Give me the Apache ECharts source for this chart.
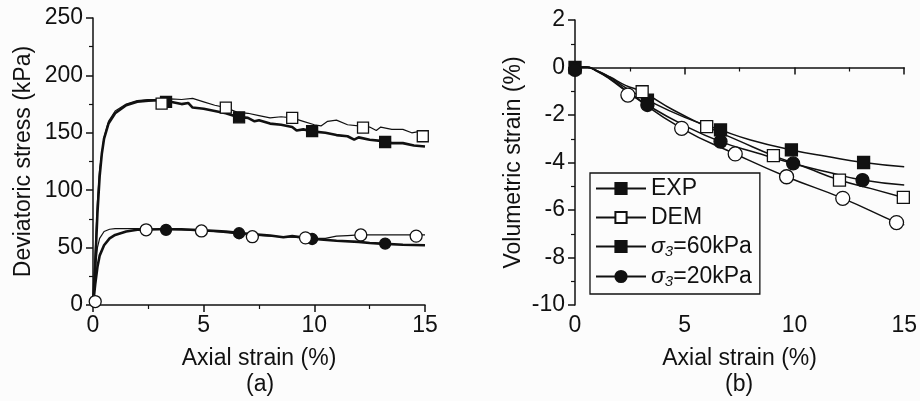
<!DOCTYPE html>
<html>
<head>
    <meta charset="utf-8">
    <title>Stress and volumetric strain</title>
    <script src="https://cdn.jsdelivr.net/npm/echarts@6/dist/echarts.min.js"></script>
    <style>
        body { margin: 0; background: #fcfcfc; }
        #main { width: 920px; height: 401px; }
    </style>
</head>
<body>
    <div id="main"></div>

    <script>
        // (a) deviatoric stress vs axial strain - curves [strain %, kPa]
        var stressExp60 = [[0,0],[0.1,35],[0.2,80],[0.3,112],[0.4,132],[0.5,145],[0.7,158],[1,167],[1.5,174],[2,177],[2.5,178],[3,178.5],[3.5,177],[4,175],[4.3,176],[4.5,172],[5,171],[5.5,169],[6,167],[6.5,164],[7,163],[7.3,160],[7.5,161],[8,158],[8.5,157],[9,155],[9.2,152],[9.5,153],[10,151],[10.5,150],[11,148],[11.5,147],[11.8,144],[12,146],[12.5,144],[13,143],[13.5,141],[14,141],[14.5,139],[15,138]];
        var stressDem60 = [[0,0],[0.1,45],[0.2,90],[0.3,118],[0.5,146],[0.7,160],[1,169],[1.5,175],[2,178],[2.5,179],[3,179],[3.5,179.5],[4,179],[4.5,180],[5,177],[5.5,174],[6,172],[6.5,168],[7,167],[7.5,165],[8,163],[8.5,164],[9,163],[9.5,160],[10,157],[10.3,156],[10.6,160],[11,161],[11.5,157],[12,156],[12.5,155],[12.8,152],[13,155],[13.5,153],[14,153],[14.4,150],[14.7,151],[15,148]];
        var stressExp20 = [[0,0],[0.1,18],[0.2,33],[0.3,43],[0.5,52],[0.75,58],[1,61],[1.5,64],[2,65.5],[3,66],[4,66],[5,65],[6,64],[7,62],[8,60.5],[8.6,59],[9,60],[10,57.5],[11,56],[12,55],[12.5,54],[13,53.5],[14,52.5],[15,52]];
        var stressDem20 = [[0,0],[0.1,30],[0.2,50],[0.3,58],[0.5,64],[0.75,66],[1,66.5],[2,66.5],[3,66],[4,65.5],[5,65],[6,63],[7,61],[8,60],[9,59],[10,58],[10.5,58],[11,60],[11.5,60.5],[12,61],[13,61],[14,61],[15,61]];

        // (a) symbols
        var stressExp60Pts = [[3.3,177],[6.6,163.5],[9.9,151.5],[13.2,142]];
        var stressDem60Pts = [[3.1,175.5],[6.0,172],[9.0,163],[12.2,154.5],[14.9,147]];
        var stressExp20Pts = [[3.3,65.5],[6.6,62.5],[9.9,57.5],[13.2,53.5]];
        var stressDem20Pts = [[0.1,3],[2.4,65.5],[4.9,64.5],[7.2,59.5],[9.6,58.5],[12.1,61],[14.6,60]];

        // (b) volumetric strain vs axial strain - curves [strain %, %]
        var volExp60 = [[0,0],[0.5,0.02],[1,-0.13],[1.6,-0.42],[2.3,-0.85],[3.3,-1.37],[5,-2.1],[6.63,-2.63],[8,-3.05],[9.86,-3.47],[11.5,-3.75],[13.15,-4.0],[15,-4.18]];
        var volDem60 = [[0,0],[0.5,0.02],[1,-0.13],[1.6,-0.4],[2.3,-0.75],[3.06,-1.02],[4.5,-1.8],[6.0,-2.49],[7.5,-3.1],[9.04,-3.71],[10.5,-4.2],[12.05,-4.74],[13.5,-5.1],[14.96,-5.47]];
        var volExp20 = [[0,0],[0.5,0.02],[1,-0.15],[1.6,-0.47],[2.3,-0.95],[3.3,-1.58],[5,-2.45],[6.63,-3.12],[8.3,-3.6],[9.94,-4.04],[11.5,-4.4],[13.1,-4.74],[15,-4.95]];
        var volDem20 = [[0,0],[0.5,0.02],[1,-0.16],[1.6,-0.5],[2.41,-1.05],[4.86,-2.56],[7.3,-3.64],[9.64,-4.6],[12.2,-5.51],[14.65,-6.53],[15,-6.62]];

        // (b) symbols
        var volExp60Pts = [[0,0],[3.3,-1.37],[6.63,-2.63],[9.86,-3.47],[13.15,-4.0]];
        var volDem60Pts = [[3.06,-1.02],[6.0,-2.49],[9.04,-3.71],[12.05,-4.74],[14.96,-5.47]];
        var volExp20Pts = [[0,-0.1],[3.3,-1.58],[6.63,-3.12],[9.94,-4.04],[13.1,-4.74]];
        var volDem20Pts = [[2.41,-1.16],[4.86,-2.56],[7.3,-3.64],[9.64,-4.6],[12.2,-5.51],[14.65,-6.53]];

        var legendNames = ['EXP', 'DEM', 'σ3=60kPa', 'σ3=20kPa'];

        var font = 'Liberation Sans, Arial, sans-serif';
        var black = '#111';
        var fs = 23;

        function xAxisFor(gridIndex) {
            return {
                gridIndex: gridIndex, type: 'value', min: 0, max: 15, interval: 5,
                name: 'Axial strain (%)', nameLocation: 'middle', nameGap: 42,
                nameTextStyle: { fontFamily: font, fontSize: fs, color: black },
                axisLine: { lineStyle: { color: black, width: 1.5 } },
                axisTick: { length: 7, lineStyle: { color: black, width: 1.5 } },
                minorTick: { show: true, splitNumber: 2, length: 4, lineStyle: { color: black, width: 1.2 } },
                axisLabel: { fontFamily: font, fontSize: fs, color: black, margin: 9 },
                splitLine: { show: false }
            };
        }

        function yAxisFor(gridIndex, min, max, step, title, gap) {
            return {
                gridIndex: gridIndex, type: 'value', min: min, max: max, interval: step,
                name: title, nameLocation: 'middle', nameGap: gap,
                nameTextStyle: { fontFamily: font, fontSize: fs, color: black },
                axisLine: { show: true, onZero: false, lineStyle: { color: black, width: 1.5 } },
                axisTick: { show: true, length: 7, lineStyle: { color: black, width: 1.5 } },
                minorTick: { show: true, splitNumber: 2, length: 4, lineStyle: { color: black, width: 1.2 } },
                axisLabel: { fontFamily: font, fontSize: fs, color: black, margin: 10 },
                splitLine: { show: false }
            };
        }

        function curve(name, data, xi, width) {
            return {
                name: name, type: 'line', xAxisIndex: xi, yAxisIndex: xi, data: data,
                showSymbol: false, smooth: xi === 1, silent: true,
                lineStyle: { color: black, width: width }
            };
        }

        function marks(name, data, xi, shape, size, filled) {
            return {
                name: name, type: 'scatter', xAxisIndex: xi, yAxisIndex: xi, data: data,
                symbol: shape, symbolSize: size, silent: true, z: 5,
                itemStyle: { color: filled ? black : '#fff', borderColor: black, borderWidth: 1.3, opacity: 1 }
            };
        }

        function legendSeries(name, shape, filled) {
            return {
                name: name, type: 'line', xAxisIndex: 1, yAxisIndex: 1, data: [],
                symbol: shape, symbolSize: 12,
                itemStyle: { color: filled ? black : '#fff', borderColor: black, borderWidth: 1.3 },
                lineStyle: { color: black, width: 1.5 }
            };
        }

        var myChart = echarts.init(document.getElementById('main'));

        var option = {
            backgroundColor: '#fcfcfc',
            animation: false,
            grid: [
                { left: 93, right: 495, top: 18, bottom: 96 },
                { left: 575, right: 13, top: 20, bottom: 96 }
            ],
            xAxis: [xAxisFor(0), xAxisFor(1)],
            yAxis: [
                yAxisFor(0, 0, 250, 50, 'Deviatoric stress (kPa)', 58),
                yAxisFor(1, -10, 2, 2, 'Volumetric strain (%)', 50)
            ],
            legend: {
                data: legendNames,
                orient: 'vertical',
                left: 590, top: 173,
                itemWidth: 50, itemHeight: 14, itemGap: 6,
                padding: [4, 8, 5, 5],
                borderColor: black, borderWidth: 1.3,
                selectedMode: false,
                textStyle: {
                    fontFamily: font, fontSize: fs, color: black,
                    rich: {
                        i: { fontFamily: font, fontSize: fs, fontStyle: 'italic', color: black },
                        s: { fontFamily: font, fontSize: 15, fontStyle: 'italic', color: black, verticalAlign: 'bottom', padding: [10, 0, 0, 0] },
                        n: { fontFamily: font, fontSize: fs, color: black }
                    }
                },
                formatter: function (name) {
                    if (name.charAt(0) === 'σ') {
                        return '{i|σ}{s|3}{n|' + name.slice(2) + '}';
                    }
                    return name;
                }
            },
            graphic: [
                { type: 'text', left: 246, top: 373, style: { text: '(a)', font: fs + 'px ' + font, fill: black } },
                { type: 'text', left: 725, top: 373, style: { text: '(b)', font: fs + 'px ' + font, fill: black } }
            ],
            series: [
                curve('s-exp60', stressExp60, 0, 2.6),
                curve('s-dem60', stressDem60, 0, 1.2),
                curve('s-exp20', stressExp20, 0, 2.6),
                curve('s-dem20', stressDem20, 0, 1.2),
                marks('m-exp60', stressExp60Pts, 0, 'rect', 11, true),
                marks('m-dem60', stressDem60Pts, 0, 'rect', 11, false),
                marks('m-exp20', stressExp20Pts, 0, 'circle', 11, true),
                marks('m-dem20', stressDem20Pts, 0, 'circle', 12, false),

                curve('v-exp60', volExp60, 1, 1.5),
                curve('v-dem60', volDem60, 1, 1.5),
                curve('v-exp20', volExp20, 1, 1.5),
                curve('v-dem20', volDem20, 1, 1.5),
                marks('vm-exp60', volExp60Pts, 1, 'rect', 12, true),
                marks('vm-dem60', volDem60Pts, 1, 'rect', 12, false),
                marks('vm-exp20', volExp20Pts, 1, 'circle', 13, true),
                marks('vm-dem20', volDem20Pts, 1, 'circle', 14, false),

                legendSeries('EXP', 'rect', true),
                legendSeries('DEM', 'rect', false),
                legendSeries('σ3=60kPa', 'rect', true),
                legendSeries('σ3=20kPa', 'circle', true)
            ]
        };

        myChart.setOption(option);
    </script>
</body>
</html>
